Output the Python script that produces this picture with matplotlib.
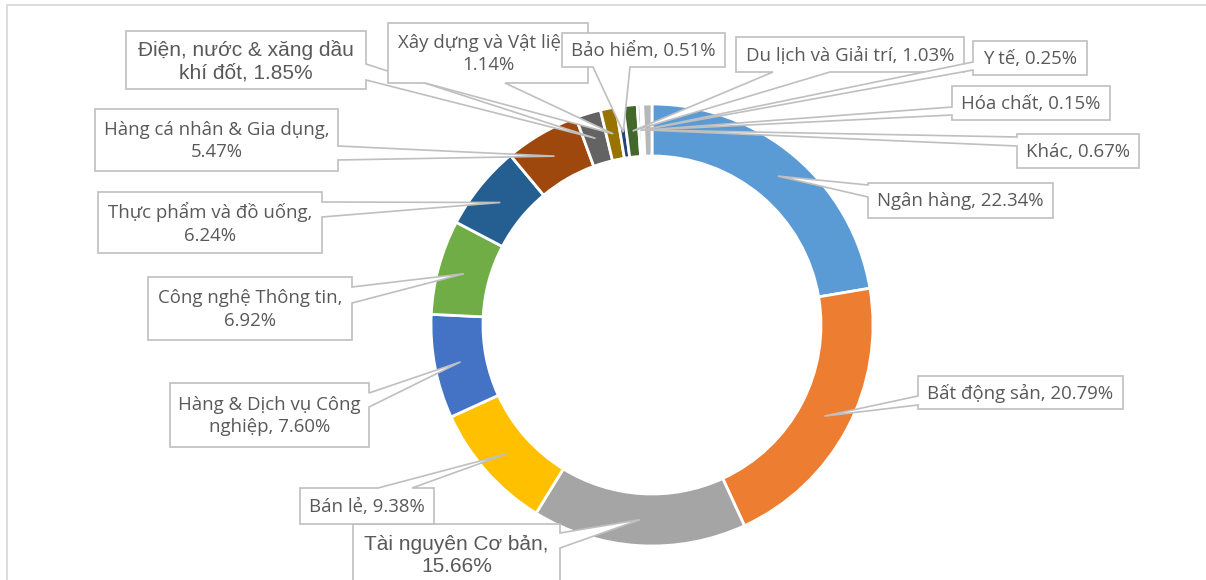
import numpy as np
import matplotlib.pyplot as plt
from matplotlib.patches import Polygon

# data, clockwise from 12 o'clock
categories = ['Ngân hàng', 'Bất động sản', 'Tài nguyên Cơ bản', 'Bán lẻ',
              'Hàng & Dịch vụ Công\nnghiệp', 'Công nghệ Thông tin',
              'Thực phẩm và đồ uống', 'Hàng cá nhân & Gia dụng',
              'Điện, nước & xăng dầu\nkhí đốt', 'Xây dựng và Vật liệu',
              'Bảo hiểm', 'Du lịch và Giải trí', 'Y tế', 'Hóa chất', 'Khác']
values = [22.34, 20.79, 15.66, 9.38, 7.60, 6.92, 6.24, 5.47,
          1.85, 1.14, 0.51, 1.03, 0.25, 0.15, 0.67]
colors = ['#5B9BD5', '#ED7D31', '#A5A5A5', '#FFC000', '#4472C4', '#70AD47',
          '#255E91', '#9E480E', '#636363', '#997300', '#264478', '#43682B',
          '#7CAFDD', '#F1975A', '#B7B7B7']

# callout layout in pixels: box (x0, y0, x1, y1), side of wedge, wedge base, separator
callouts = [
    ((868, 183, 1053, 218), 'left', 185, 197, ', '),
    ((918, 376, 1123, 409), 'left', 396, 405, ', '),
    ((353, 524, 560, 585), 'right', 533, 548, ',\n'),
    ((300, 488, 434, 524), 'top', 378, 412, ', '),
    ((170, 383, 369, 447), 'right', 393, 407, ', '),
    ((148, 277, 352, 340), 'right', 287, 303, ',\n'),
    ((98, 192, 322, 253), 'right', 202, 217, ',\n'),
    ((95, 109, 338, 171), 'right', 146, 160, ',\n'),
    ((126, 31, 366, 89), 'right', 64, 80, ', '),
    ((388, 23, 588, 83), 'bottom', 425, 505, ',\n'),
    ((562, 33, 725, 67), 'bottom', 593, 630, ', '),
    ((736, 37, 964, 72), 'bottom', 773, 830, ', '),
    ((973, 41, 1087, 75), 'left', 62, 70, ', '),
    ((952, 86, 1110, 120), 'left', 107, 115, ', '),
    ((1017, 134, 1139, 168), 'left', 137, 146, ', '),
]
arial_like = {'Tài nguyên Cơ bản', 'Điện, nước & xăng dầu\nkhí đốt'}

TXT = '#595959'
EDGE = '#BFBFBF'

fig = plt.figure(figsize=(12.06, 5.8), dpi=100)
ax = fig.add_axes([0, 0, 1, 1])

cx, cy, R, W = 652, 325, 221, 52
wedges, _ = ax.pie(values, colors=colors, startangle=-90, counterclock=True,
                   radius=R, center=(cx, cy), frame=False,
                   wedgeprops=dict(width=W, edgecolor='white', linewidth=2))
ax.set_xlim(0, 1206)
ax.set_ylim(580, 0)
ax.set_aspect('equal')
ax.axis('off')

# chart area border (only top and left visible in the crop)
ax.plot([7, 7, 1206], [580, 5, 5], color='#D9D9D9', lw=1.3, zorder=1)


def callout_poly(box, side, b1, b2, tip):
    x0, y0, x1, y1 = box
    if side == 'top':
        pts = [(x0, y0), (b1, y0), tip, (b2, y0), (x1, y0), (x1, y1), (x0, y1)]
    elif side == 'right':
        pts = [(x0, y0), (x1, y0), (x1, b1), tip, (x1, b2), (x1, y1), (x0, y1)]
    elif side == 'bottom':
        pts = [(x0, y0), (x1, y0), (x1, y1), (b2, y1), tip, (b1, y1), (x0, y1)]
    else:
        pts = [(x0, y0), (x1, y0), (x1, y1), (x0, y1), (x0, b2), tip, (x0, b1)]
    return pts


rm = R - W / 2
for i, (w, name, v) in enumerate(zip(wedges, categories, values)):
    box, side, b1, b2, sep = callouts[i]
    th = np.deg2rad((w.theta1 + w.theta2) / 2)
    tip = (cx + rm * np.cos(th), cy + rm * np.sin(th))
    z = 3 + i * 0.1
    ax.add_patch(Polygon(callout_poly(box, side, b1, b2, tip), closed=True,
                         facecolor='white', edgecolor=EDGE, lw=1.2, zorder=z))
    if name in arial_like:
        fam, fs, ls = ['Liberation Sans', 'DejaVu Sans'], 15.0, 1.22
    else:
        fam, fs, ls = ['Open Sans', 'DejaVu Sans'], 13.4, 1.32
    label = name + sep + '%.2f%%' % v
    ax.text((box[0] + box[2]) / 2, (box[1] + box[3]) / 2 + 1, label,
            ha='center', va='center', multialignment='center',
            fontsize=fs, color=TXT, family=fam, linespacing=ls, zorder=z + 0.05)

fig.savefig('out.png', dpi=100)
